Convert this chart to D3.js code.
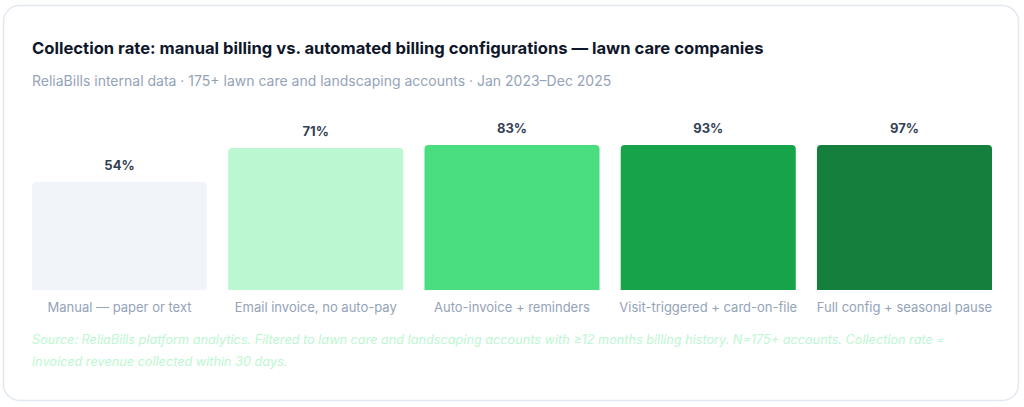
<!DOCTYPE html>
<html><head><meta charset="utf-8">
<script src="https://cdn.jsdelivr.net/npm/d3@7/dist/d3.min.js"></script>
<style>
html,body{margin:0;padding:0;background:#fff;}
svg{display:block;font-family:Inter, "Noto Sans", sans-serif;}
</style></head>
<body>
<svg id="chart" width="1024" height="407"></svg>
<script>
const categories = ["Manual — paper or text","Email invoice, no auto-pay","Auto-invoice + reminders","Visit-triggered + card-on-file","Full config + seasonal pause"];
const values = [54,71,83,93,97];
const colors = ["#f1f5f9","#bbf7d0","#4ade80","#16a34a","#15803d"];
const title = "Collection rate: manual billing vs. automated billing configurations — lawn care companies";
const subtitle = "ReliaBills internal data · 175+ lawn care and landscaping accounts · Jan 2023–Dec 2025";
const sourceLines = ["Source: ReliaBills platform analytics. Filtered to lawn care and landscaping accounts with ≥12 months billing history. N=175+ accounts. Collection rate =","invoiced revenue collected within 30 days."];

const svg = d3.select("#chart");
svg.append("rect").attr("x",3.5).attr("y",5.5).attr("width",1015).attr("height",395)
  .attr("rx",16).attr("fill","#fff").attr("stroke","#e2e8f0").attr("stroke-width",1.5);

svg.append("text").attr("x",32).attr("y",54).attr("font-size",16.6).attr("font-weight",700)
  .attr("fill","#0f172a").text(title);
svg.append("text").attr("x",32).attr("y",86).attr("font-size",14).attr("fill","#94a3b8").text(subtitle);

const x = d3.scaleBand().domain(categories).range([32,992]).paddingInner(0.108).paddingOuter(0);
const base = 290;
const h = d3.scaleLinear().domain([0,72.5]).range([0,145]).clamp(true);

function topRounded(x0,y0,w,hh,r){
  return `M${x0},${y0+hh}V${y0+r}Q${x0},${y0} ${x0+r},${y0}H${x0+w-r}Q${x0+w},${y0} ${x0+w},${y0+r}V${y0+hh}Z`;
}
const g = svg.append("g");
g.selectAll("path.bar").data(values).join("path").attr("class","bar")
  .attr("d",(d,i)=>topRounded(x(categories[i]), base-h(d), x.bandwidth(), h(d), 4))
  .attr("fill",(d,i)=>colors[i]);
g.selectAll("text.val").data(values).join("text").attr("class","val")
  .attr("x",(d,i)=>x(categories[i])+x.bandwidth()/2).attr("y",d=>base-h(d)-12)
  .attr("text-anchor","middle").attr("font-size",13).attr("font-weight",700).attr("fill","#334155")
  .text(d=>d+"%");
g.selectAll("text.cat").data(categories).join("text").attr("class","cat")
  .attr("x",d=>x(d)+x.bandwidth()/2).attr("y",312)
  .attr("text-anchor","middle").attr("font-size",13).attr("fill","#94a3b8").text(d=>d);
svg.selectAll("text.src").data(sourceLines).join("text").attr("class","src")
  .attr("x",32).attr("y",(d,i)=>344+i*22).attr("font-size",12.7).attr("font-style","italic")
  .attr("fill","#bbf7d0").text(d=>d);
</script>
</body></html>
